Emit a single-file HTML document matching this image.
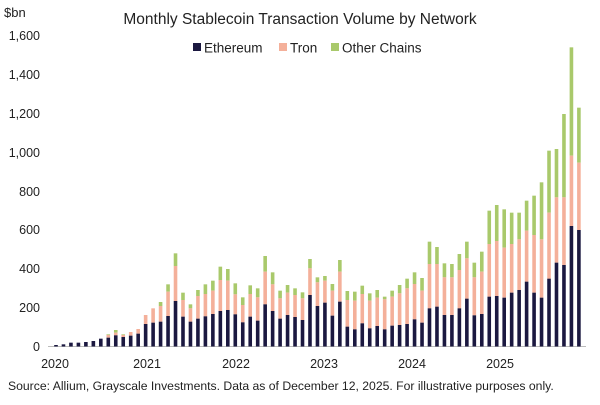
<!DOCTYPE html>
<html><head><meta charset="utf-8"><style>
body{margin:0;background:#fff;width:600px;height:400px;overflow:hidden;font-family:"Liberation Sans",sans-serif}
</style></head><body>
<svg id="s" width="600" height="400" xmlns="http://www.w3.org/2000/svg" font-family="Liberation Sans, sans-serif">
<text x="300" y="24" text-anchor="middle" font-size="15.5" fill="#222">Monthly Stablecoin Transaction Volume by Network</text>
<text x="4" y="17" font-size="13" fill="#222">$bn</text>
<rect x="193" y="43" width="8" height="8" fill="#1b1840"/><text x="204" y="52.5" font-size="13.5" fill="#222">Ethereum</text>
<rect x="279" y="43" width="8" height="8" fill="#f4b09a"/><text x="290" y="52.5" font-size="13.5" fill="#222">Tron</text>
<rect x="331" y="43" width="8" height="8" fill="#a9c96b"/><text x="342" y="52.5" font-size="13.5" fill="#222">Other Chains</text>
<g font-size="12.5" fill="#222" text-anchor="end">
<text x="40" y="40">1,600</text><text x="40" y="79">1,400</text><text x="40" y="118">1,200</text><text x="40" y="157">1,000</text>
<text x="40" y="196">800</text><text x="40" y="234">600</text><text x="40" y="273">400</text><text x="40" y="312">200</text><text x="40" y="351">0</text>
</g>
<g font-size="12.5" fill="#222" text-anchor="middle">
<text x="55" y="368">2020</text><text x="147" y="368">2021</text><text x="236" y="368">2022</text><text x="324" y="368">2023</text><text x="412" y="368">2024</text><text x="500" y="368">2025</text>
</g>
<line x1="48" y1="346.5" x2="586" y2="346.5" stroke="#bbb" stroke-width="1"/>
<text x="8" y="390" font-size="12.2" fill="#222">Source: Allium, Grayscale Investments. Data as of December 12, 2025. For illustrative purposes only.</text>
<g id="b"></g>
</svg>
<script>
var z1=[[315,315,315],[313,313,313],[308,308,308],[308,308,308],[306,306,306],[303,303,303],[296,296,296],[293,285,283],[286,278,270],[291,285,283],[287,276,276],[281,267,267],[252,225,225],[248,205,205],[245,198,186],[228,155,133],[183,78,40],[230,180,158],[245,205,193],[236,168,150],[229,162,133],[222,152,122],[213,120,80],[210,122,87],[223,163,130],[247,195,172],[230,162,136],[242,172,145],[193,95,48],[213,133,97],[236,175,152],[225,158,135],[231,165,145]];
var z2=[[840,775,757],[765,685,657],[798,727,712],[788,722,708],[827,752,732],[785,695,660],[860,780,753],[868,782,755],[850,762,737],[865,782,760],[858,773,750],[868,778,770],[857,770,752],[855,760,735],[852,745,716],[838,732,697],[848,752,714],[805,672,605],[800,672,621],[825,712,670],[825,712,672],[805,690,642],[776,655,605],[826,712,668],[822,695,635],[770,612,512],[768,603,495],[773,623,508],[758,612,518],[750,598,518],[725,572,482],[758,585,467],[773,598,427],[716,518,332],[668,472,327],[675,472,222],[558,347,22],[570,368,203]];
var base=346.5,g=document.getElementById('b'),h='';
function bar(i,e,t,o){var x=56+i*7.47-1.8,w=3.6;
h+='<rect x="'+x+'" y="'+o+'" width="'+w+'" height="'+(t-o)+'" fill="#a9c96b"/>';
h+='<rect x="'+x+'" y="'+t+'" width="'+w+'" height="'+(e-t)+'" fill="#f4b09a"/>';
h+='<rect x="'+x+'" y="'+e+'" width="'+w+'" height="'+(base-e)+'" fill="#1b1840"/>';}
z1.forEach(function(d,i){bar(i,240+d[0]/3,240+d[1]/3,240+d[2]/3);});
z2.forEach(function(d,i){bar(33+i,40+d[0]/3,40+d[1]/3,40+d[2]/3);});
g.innerHTML=h;
</script>
</body></html>
